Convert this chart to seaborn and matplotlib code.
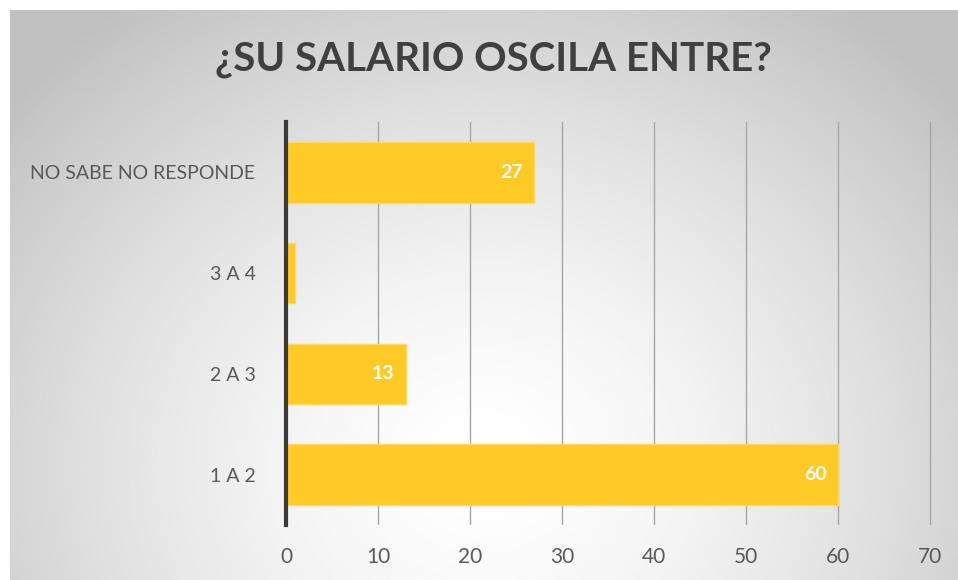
import numpy as np
import pandas as pd
import matplotlib.pyplot as plt
import seaborn as sns

# chart data (top to bottom)
categories = ["NO SABE NO RESPONDE", "3 A 4", "2 A 3", "1 A 2"]
values = [27, 1, 13, 60]
x_ticks = [0, 10, 20, 30, 40, 50, 60, 70]
title = "¿SU SALARIO OSCILA ENTRE?"

df = pd.DataFrame({"rango": categories, "n": values})

sns.set_theme(style="white")
plt.rcParams["font.family"] = ["Lato", "DejaVu Sans"]

W, H = 958, 580
fig = plt.figure(figsize=(W / 100, H / 100), dpi=100)
fig.patch.set_facecolor("white")

# radial gradient background of the chart area
bg = fig.add_axes([10 / W, 0, 1 - 10 / W, 1 - 10 / H], zorder=-5)
gx, gy = np.meshgrid(np.linspace(0, 1, 400), np.linspace(0, 1, 250))
r = np.sqrt(((gx - 0.5) * 1.5) ** 2 + ((gy - 0.8) * 1.0) ** 2)
shade = 1 - 0.25 * np.clip(r / 1.0, 0, 1) ** 1.5
bg.imshow(shade, cmap="gray", vmin=0, vmax=1, aspect="auto",
          extent=[0, 1, 1, 0], interpolation="bilinear")
bg.set_axis_off()

xmax = 70.2
ax = fig.add_axes([286 / W, 1 - 525 / H, (930 - 286) / W * xmax / 70, (525 - 122) / H])
ax.patch.set_alpha(0)

sns.barplot(data=df, x="n", y="rango", orient="h", color="#FFC926",
            saturation=1, width=0.6, ax=ax, zorder=3,
            edgecolor="#ffd866", linewidth=1)

for bar, v in zip(ax.patches, values):
    if v >= 5:
        ax.text(bar.get_width() - 2.5, bar.get_y() + bar.get_height() / 2,
                str(v), ha="center", va="center", color="white",
                fontsize=14, fontweight="bold", zorder=4)

ax.set_xlim(0, xmax)
ax.set_xticks(x_ticks)
ax.xaxis.grid(True, color="#a6a6a6", linewidth=1, zorder=0)
ax.set_axisbelow(True)
ax.set_xlabel("")
ax.set_ylabel("")
for s in ["top", "right", "bottom"]:
    ax.spines[s].set_visible(False)
ax.spines["left"].set_color("#3a3a3a")
ax.spines["left"].set_linewidth(3)
ax.spines["left"].set_zorder(5)
ax.tick_params(axis="x", length=0, pad=16, labelsize=15, labelcolor="#595959")
ax.tick_params(axis="y", length=0, pad=22, labelsize=14, labelcolor="#595959")

fig.text(0.5 + 14 / W, 1 - 60 / H, title, ha="center", va="center",
         fontsize=29, fontweight="bold", color="#404040")

fig.savefig("out.png", dpi=100)
